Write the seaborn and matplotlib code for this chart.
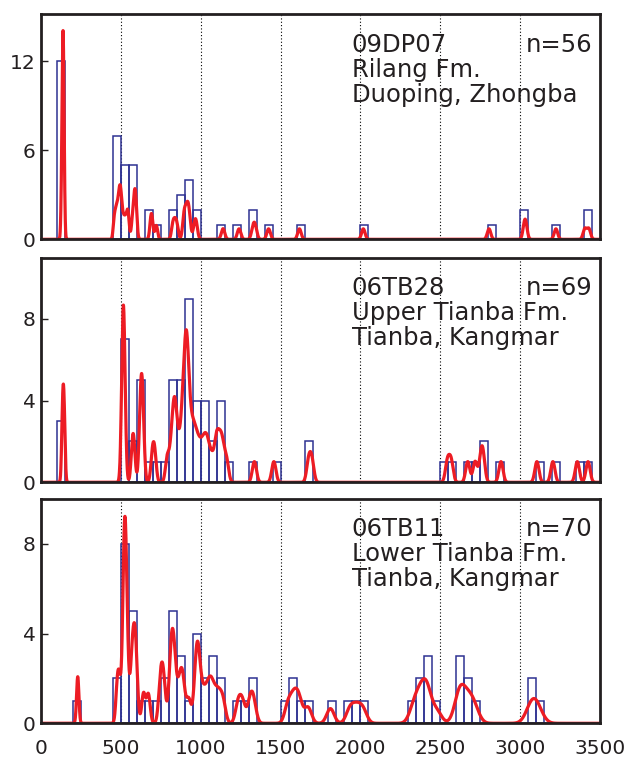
import matplotlib
matplotlib.use("Agg")
import matplotlib.pyplot as plt
import seaborn as sns
import numpy as np
import pandas as pd

# detrital zircon ages (Ma), one value per grain
ages_09dp07 = [128, 132, 134, 136, 137, 138, 138, 139, 140, 141, 143, 146,
               458, 468, 476, 484, 490, 495, 499,
               505, 516, 528, 540, 547,
               572, 582, 587, 591, 596,
               688, 695, 722,
               825, 838, 851, 894, 899, 910, 917, 923, 931, 962, 972,
               1140, 1240, 1328, 1342, 1425, 1618, 2018,
               2805, 3028, 3034, 3224, 3405, 3430]

ages_06tb28 = [134, 140, 146,
               508, 511, 514, 516, 518, 520, 525,
               572, 582,
               620, 626, 630, 634, 640,
               698, 712, 790,
               812, 826, 832, 838, 845,
               856, 872, 884, 890, 896,
               903, 906, 909, 912, 915, 919, 926, 934, 944,
               955, 965, 978, 992,
               1008, 1022, 1035, 1048,
               1068, 1092,
               1102, 1115, 1128, 1140, 1162,
               1336, 1458, 1676, 1696,
               2545, 2568, 2672, 2718, 2755, 2768, 2880,
               3105, 3205, 3358, 3425]

ages_06tb11 = [230,
               478, 492,
               515, 519, 522, 525, 527, 530, 534, 542,
               565, 575, 583, 590, 598,
               642, 672, 746, 758, 770,
               808, 818, 824, 830, 842,
               865, 880, 892, 925,
               968, 976, 982, 990,
               1012, 1035, 1055, 1070, 1092, 1115, 1140,
               1235, 1262, 1310, 1330,
               1545, 1575, 1598, 1620, 1672, 1812,
               1935, 1975, 2015,
               2330, 2360, 2378, 2405, 2412, 2425, 2478,
               2612, 2622, 2635, 2665, 2690, 2715,
               3065, 3085, 3112]

samples = ['09DP07', '06TB28', '06TB11']
formations = ['Rilang Fm.', 'Upper Tianba Fm.', 'Lower Tianba Fm.']
localities = ['Duoping, Zhongba', 'Tianba, Kangmar', 'Tianba, Kangmar']
yticks = [[0, 6, 12], [0, 4, 8], [0, 4, 8]]
ylims = [15.2, 11.0, 10.0]

# 1-sigma error model per sample (Ma): base + relative part, capped
base_err = [4, 5, 5]
rel_err = [0.006, 0.008, 0.01]
max_err = [11, 13, 40]
curve_scale = [19.5, 33, 38]

sns.set_theme(style="white")
plt.rcParams['font.family'] = ['DejaVu Sans']

navy = '#2e3192'
red = '#ed1c24'
frame = '#231f20'

fig = plt.figure(figsize=(6.25, 7.6), dpi=100)
boxes = [[0.0656, 0.6851, 0.8944, 0.2964],
         [0.0656, 0.3654, 0.8944, 0.2955],
         [0.0656, 0.0483, 0.8944, 0.2951]]

grid = np.linspace(0, 3500, 3501)
all_ages = [ages_09dp07, ages_06tb28, ages_06tb11]

for i, ages in enumerate(all_ages):
    ax = fig.add_axes(boxes[i])
    df = pd.DataFrame({'age': ages})

    # dotted reference lines every 500 Ma
    for xv in range(500, 3500, 500):
        ax.axvline(xv, color='black', linestyle=(0, (1, 2)), linewidth=0.8, zorder=0)

    sns.histplot(data=df, x='age', binwidth=50, binrange=(0, 3500), fill=False,
                 color=navy, linewidth=1.1, ax=ax, zorder=2)

    # probability density curve from the grain ages
    a = np.array(ages, dtype=float)
    sig = np.minimum(base_err[i] + a * rel_err[i], max_err[i])
    dens = np.exp(-0.5 * ((grid[:, None] - a[None, :]) / sig[None, :]) ** 2) / (sig * np.sqrt(2 * np.pi))
    curve = curve_scale[i] * dens.sum(axis=1)
    ax.plot(grid, curve, color=red, linewidth=2.3, zorder=3, solid_capstyle='round')

    ax.set_xlim(0, 3500)
    ax.set_ylim(0, ylims[i])
    ax.set_xticks(range(0, 3501, 500))
    ax.set_yticks(yticks[i])
    ax.set_xlabel('')
    ax.set_ylabel('')
    ax.tick_params(axis='y', direction='in', length=5, width=1, pad=4,
                   labelsize=14.5, colors=frame, left=True)
    ax.tick_params(axis='x', direction='in', length=0, pad=11, labelsize=14.5,
                   colors=frame, bottom=True)
    if i < 2:
        ax.set_xticklabels([])
    for s in ax.spines.values():
        s.set_color(frame)
        s.set_linewidth(2)
        s.set_zorder(4)

    ax.text(0.556, 0.833, samples[i], transform=ax.transAxes, fontsize=17.5,
            color=frame, va='baseline', ha='left')
    ax.text(0.987, 0.833, f'n={len(ages)}', transform=ax.transAxes, fontsize=17.5,
            color=frame, va='baseline', ha='right')
    ax.text(0.556, 0.722, formations[i], transform=ax.transAxes, fontsize=17.5,
            color=frame, va='baseline', ha='left')
    ax.text(0.556, 0.611, localities[i], transform=ax.transAxes, fontsize=17.5,
            color=frame, va='baseline', ha='left')

fig.savefig('out.png', dpi=100)
